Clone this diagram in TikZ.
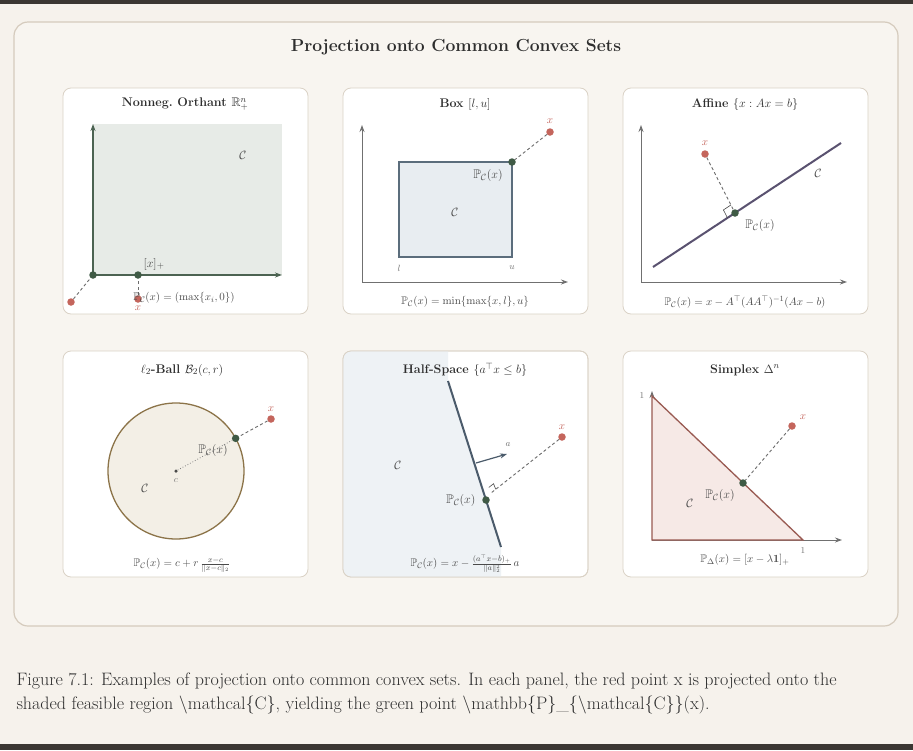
\documentclass[tikz,border=0pt]{standalone}
\usepackage{amsmath,amssymb}
\usepackage{tikz}
\usetikzlibrary{arrows.meta,calc}
\usepackage{tkz-euclide}

\definecolor{pagebg}{HTML}{F6F2EC}
\definecolor{boxbg}{HTML}{F8F5F0}
\definecolor{boxline}{HTML}{D5CBBD}
\definecolor{panelline}{HTML}{DAD2C6}
\definecolor{darkbar}{HTML}{3B3733}
\definecolor{ptgreen}{HTML}{3F5A45}
\definecolor{ptred}{HTML}{C4655C}
\definecolor{orthfill}{HTML}{E7EBE7}
\definecolor{orthaxis}{HTML}{4C6352}
\definecolor{boxfill}{HTML}{E8EDF1}
\definecolor{boxedge}{HTML}{5B6D7C}
\definecolor{affline}{HTML}{5A5270}
\definecolor{ballfill}{HTML}{F3EFE6}
\definecolor{balledge}{HTML}{8C7449}
\definecolor{halffill}{HTML}{EEF2F5}
\definecolor{halfedge}{HTML}{4B5B6B}
\definecolor{simpfill}{HTML}{F6E9E6}
\definecolor{simpedge}{HTML}{995A52}
\definecolor{axisgrey}{HTML}{707070}
\definecolor{txt}{HTML}{2E2E2E}
\definecolor{lbl}{HTML}{4A4A4A}

\tikzset{
  panel/.style={draw=panelline, fill=white, rounded corners=8pt, line width=0.8pt},
  ptitle/.style={font=\fontsize{12.5}{15}\selectfont\bfseries, text=txt},
  formula/.style={font=\fontsize{11}{13}\selectfont, text=lbl},
  lab/.style={font=\fontsize{12.5}{15}\selectfont, text=lbl},
  tick/.style={font=\fontsize{9}{10}\selectfont, text=axisgrey},
  xlab/.style={font=\fontsize{11}{13}\selectfont, text=ptred},
  gdot/.style={circle, fill=ptgreen, inner sep=0pt, minimum size=7.5pt},
  rdot/.style={circle, fill=ptred, inner sep=0pt, minimum size=7.5pt},
  proj/.style={draw=gray!85!black, dash pattern=on 3pt off 2.5pt, line width=0.9pt},
  axis/.style={-{Stealth[length=7pt,width=5pt]}, draw=axisgrey, line width=0.9pt},
}

\begin{document}
\begin{tikzpicture}[x=1pt,y=-1pt]

%% 背景与外框
\fill[pagebg] (0,0) rectangle (913,750);
\useasboundingbox (0,0) rectangle (913,750);
\fill[darkbar] (0,0) rectangle (913,4);
\fill[darkbar] (0,744) rectangle (913,750);
\draw[boxline, fill=boxbg, line width=1.2pt, rounded corners=14pt] (14,22) rectangle (898,626);
\node[font=\fontsize{17.5}{20}\selectfont\bfseries, text=txt] (title) at (456,47) {Projection onto Common Convex Sets};

%% 六个面板
\foreach \px in {63,343,623}{
  \foreach \py in {88,351}{
    \draw[panel] (\px,\py) rectangle ++(245,226);
  }
}

%% 面板 1: 非负象限
\tkzDefPoints{93/275/O1, 93/124/Y1, 282/275/X1, 138/275/P1, 71/302/R1, 138/299/Q1}
\fill[orthfill] (Y1) rectangle (X1);
\draw[axis, draw=orthaxis, line width=1.4pt] (O1) -- (Y1);
\draw[axis, draw=orthaxis, line width=1.4pt] (O1) -- (X1);
\node[rdot] (r1) at (R1) {};
\node[rdot] (q1) at (Q1) {};
\node[gdot] (o1) at (O1) {};
\node[gdot] (p1) at (P1) {};
\draw[proj] (r1) -- (o1);
\draw[proj] (q1) -- (p1);
\node[ptitle] (t1) at (185,104) {Nonneg.\ Orthant $\mathbb{R}^n_+$};
\node[lab] (c1) at (243,155) {$\mathcal{C}$};
\node[lab] (xp1) at (154,264) {$[x]_+$};
\node[formula] (f1) at (184,298) {$\mathbb{P}_{\mathcal{C}}(x) = (\max\{x_i,0\})$};
\node[xlab] (xl1) at (138,308) {$x$};

%% 面板 2: 盒约束
\tkzDefPoints{362/282/O2, 362/125/Y2, 568/282/X2, 399/257/L2, 512/162/U2, 550/132/R2}
\draw[axis] (O2) -- (Y2);
\draw[axis] (O2) -- (X2);
\draw[fill=boxfill, draw=boxedge, line width=1.3pt] (L2) rectangle (U2);
\node[gdot] (p2) at (U2) {};
\node[rdot] (r2) at (R2) {};
\draw[proj] (r2) -- (p2);
\node[ptitle] (t2) at (465,104) {Box $[l,u]$};
\node[xlab] (xl2) at (550,121) {$x$};
\node[lab] (pl2) at (488,175) {$\mathbb{P}_{\mathcal{C}}(x)$};
\node[lab] (c2) at (455,212) {$\mathcal{C}$};
\node[tick] (l2) at (399,268) {$l$};
\node[tick] (u2) at (512,268) {$u$};
\node[formula] (f2) at (465,302) {$\mathbb{P}_{\mathcal{C}}(x) = \min\{\max\{x,l\},u\}$};

%% 面板 3: 仿射集
\tkzDefPoints{641/282/O3, 641/125/Y3, 847/282/X3, 653/267/A3, 841/143/B3, 735/213/P3, 705/154/R3}
\draw[axis] (O3) -- (Y3);
\draw[axis] (O3) -- (X3);
\draw[affline, line width=2pt] (A3) -- (B3);
\coordinate (m3a) at ($(P3)!9pt!(A3)$);
\coordinate (m3b) at ($(P3)!9pt!(R3)$);
\draw[lbl, line width=0.6pt] (m3a) -- ($(m3a)+(m3b)-(P3)$) -- (m3b);
\node[gdot] (p3) at (P3) {};
\node[rdot] (r3) at (R3) {};
\draw[proj] (r3) -- (p3);
\node[ptitle] (t3) at (745,104) {Affine $\{x : Ax = b\}$};
\node[xlab] (xl3) at (705,143) {$x$};
\node[lab] (pl3) at (760,225) {$\mathbb{P}_{\mathcal{C}}(x)$};
\node[lab] (c3) at (818,173) {$\mathcal{C}$};
\node[formula] (f3) at (745,302) {$\mathbb{P}_{\mathcal{C}}(x) = x - A^{\top}(AA^{\top})^{-1}(Ax-b)$};

%% 面板 4: l2 球
\tkzDefPoints{176/471/C4, 271/419/R4}
\draw[fill=ballfill, draw=balledge, line width=1.3pt] (C4) circle (68pt);
\node[circle, fill=lbl, inner sep=0pt, minimum size=3.5pt] (c4) at (C4) {};
\node[gdot] (p4) at ($(C4)!68pt!(R4)$) {};
\node[rdot] (r4) at (R4) {};
\draw[dotted, gray, line width=0.8pt] (c4) -- (p4);
\draw[proj] (r4) -- (p4);
\node[ptitle] (t4) at (182,370) {$\ell_2$-Ball $\mathcal{B}_2(c,r)$};
\node[xlab] (xl4) at (271,409) {$x$};
\node[tick] (cl4) at (176,481) {$c$};
\node[lab] (pl4) at (213,450) {$\mathbb{P}_{\mathcal{C}}(x)$};
\node[lab] (cc4) at (145,488) {$\mathcal{C}$};
\node[formula] (f4) at (182,565) {$\mathbb{P}_{\mathcal{C}}(x) = c + r\,\frac{x-c}{\|x-c\|_2}$};

%% 面板 5: 半空间
\tkzDefPoints{448/381/A5, 501/547/B5, 476/463/N5, 507/454/M5, 486/500/P5, 562/437/R5, 491/493/F5}
\begin{scope}
  \clip[rounded corners=8pt] (343,351) rectangle (588,577);
  \fill[halffill] (343,351) -- (448,351) -- (A5) -- (B5) -- (501,577) -- (343,577) -- cycle;
\end{scope}
\draw[panelline, line width=0.8pt, rounded corners=8pt] (343,351) rectangle (588,577);
\draw[halfedge, line width=2pt] (A5) -- (B5);
\draw[-{Stealth[length=7pt,width=5pt]}, halfedge, line width=1.2pt] (N5) -- (M5);
\coordinate (m5a) at ($(F5)!6pt!(A5)$);
\coordinate (m5b) at ($(F5)!6pt!(R5)$);
\draw[lbl, line width=0.6pt] (m5a) -- ($(m5a)+(m5b)-(F5)$) -- (m5b);
\node[gdot] (p5) at (P5) {};
\node[rdot] (r5) at (R5) {};
\draw[proj] (r5) -- (F5);
\node[ptitle] (t5) at (465,370) {Half-Space $\{a^{\top}x \le b\}$};
\node[tick] (al5) at (508,445) {$a$};
\node[xlab] (xl5) at (562,427) {$x$};
\node[lab, anchor=east] (pl5) at (479,500) {$\mathbb{P}_{\mathcal{C}}(x)$};
\node[lab] (c5) at (398,465) {$\mathcal{C}$};
\node[formula] (f5) at (465,564) {$\mathbb{P}_{\mathcal{C}}(x) = x - \frac{(a^{\top}x-b)_+}{\|a\|_2^2}\,a$};

%% 面板 6: 单纯形
\tkzDefPoints{652/540/O6, 652/391/Y6, 842/540/X6, 652/396/T6, 803/540/S6, 743/483/P6, 792/426/R6}
\draw[axis] (O6) -- (Y6);
\draw[axis] (O6) -- (X6);
\draw[fill=simpfill, draw=simpedge, line width=1.3pt] (O6) -- (T6) -- (S6) -- cycle;
\node[gdot] (p6) at (P6) {};
\node[rdot] (r6) at (R6) {};
\draw[proj] (r6) -- (p6);
\node[ptitle] (t6) at (745,370) {Simplex $\Delta^n$};
\node[tick] (one6a) at (642,396) {$1$};
\node[tick] (one6b) at (803,551) {$1$};
\node[xlab] (xl6) at (803,417) {$x$};
\node[lab] (pl6) at (720,495) {$\mathbb{P}_{\mathcal{C}}(x)$};
\node[lab] (c6) at (690,503) {$\mathcal{C}$};
\node[formula] (f6) at (745,560) {$\mathbb{P}_{\Delta}(x) = [x - \lambda\mathbf{1}]_+$};

%% 图注
\node[anchor=west, align=left, font=\fontsize{18}{24}\selectfont, text=txt] (cap) at (13,693)
  {Figure 7.1: Examples of projection onto common convex sets. In each panel, the red point x is projected onto the\\
   shaded feasible region \textbackslash mathcal\{C\}, yielding the green point \textbackslash mathbb\{P\}\_\{\textbackslash mathcal\{C\}\}(x).};

\end{tikzpicture}
\end{document}
